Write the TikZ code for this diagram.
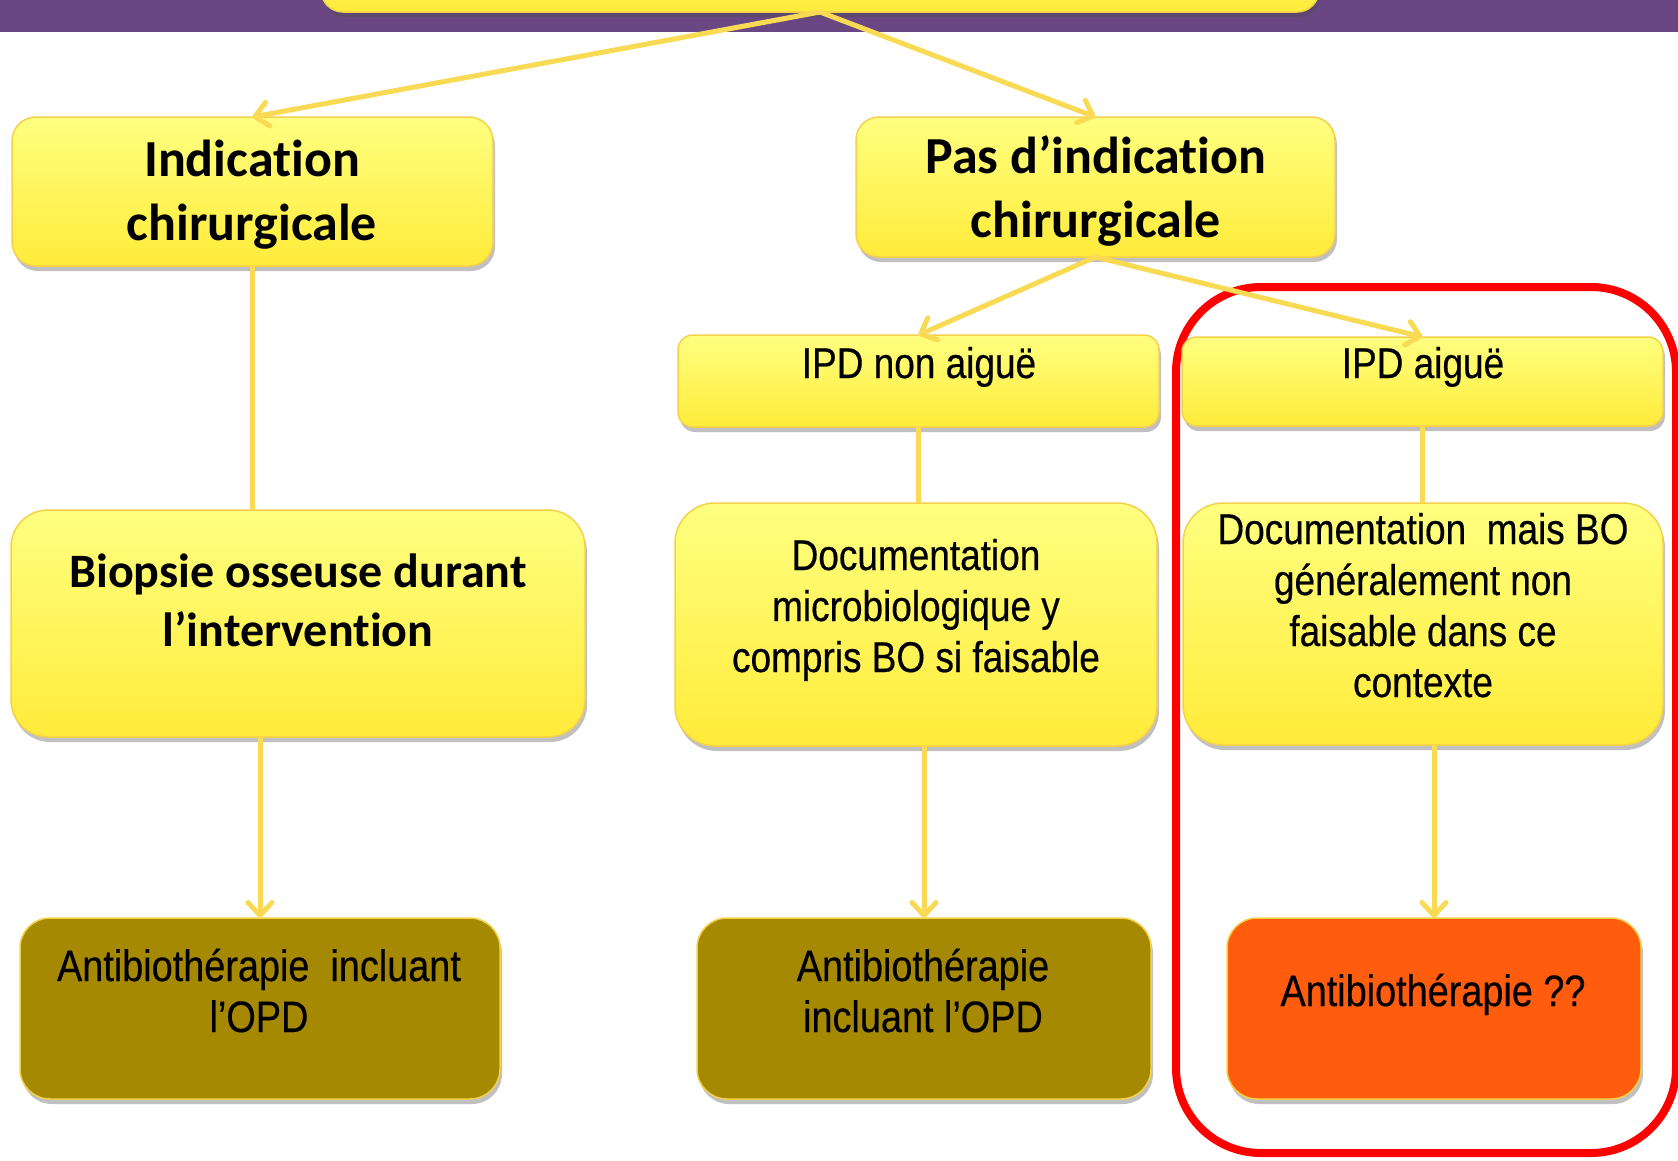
\documentclass[tikz,border=0pt]{standalone}
\usepackage{fontspec}
\setmainfont{Carlito}[Ligatures=NoCommon]
\newfontfamily\narrowf[FakeStretch=0.86, FakeBold=0.4]{Liberation Sans}
\usetikzlibrary{shadows,arrows.meta}
\definecolor{purpleband}{HTML}{6A4783}
\definecolor{ylight}{HTML}{FFFF80}
\definecolor{ydark}{HTML}{FFEB3A}
\definecolor{yborder}{HTML}{F5D04A}
\definecolor{oliveb}{HTML}{A68902}
\definecolor{orangeb}{HTML}{FF5C0D}
\definecolor{connc}{HTML}{F9DA55}
\tikzset{
  boxbase/.style={draw=yborder, line width=1.5pt, inner sep=0pt, outer sep=0pt,
    drop shadow={shadow xshift=2pt, shadow yshift=-5pt, opacity=0.35, fill=black!70}},
  ybox/.style={boxbase, top color=ylight, bottom color=ydark},
  obox/.style={boxbase, fill=oliveb},
  rbox/.style={boxbase, fill=orangeb},
  boldtxt/.style={align=center, inner sep=0pt, font=\bfseries\fontsize{52}{64}\selectfont},
  biotxt/.style={align=center, inner sep=0pt, font=\bfseries\fontsize{48}{59}\selectfont},
  narrowtxt/.style={align=center, inner sep=0pt, font=\narrowf\fontsize{43}{51}\selectfont},
  antitxt/.style={align=center, inner sep=0pt, font=\narrowf\fontsize{44}{51}\selectfont},
  conn/.style={draw=connc, line width=5pt},
  connarrow/.style={conn, -{Straight Barb[length=13pt, width=24pt, line width=5pt, round]}}
}
\begin{document}
\begin{tikzpicture}[x=1pt, y=-1pt]
\useasboundingbox (0,0) rectangle (1678,1160);
\clip (0,0) rectangle (1678,1160);
\fill[white] (0,0) rectangle (1678,1160);
\fill[purpleband] (0,0) rectangle (1678,32);

% focus frame
\node[draw=red, line width=8pt, rounded corners=85pt, minimum width=500pt, minimum height=866pt, inner sep=0pt] (focus) at (1426,720) {};

% boxes
\node[ybox, rounded corners=22pt, minimum width=998pt, minimum height=90pt] (topb) at (820,-33) {};
\node[ybox, rounded corners=24pt, minimum width=481pt, minimum height=149pt] (ind) at (252.5,191.5) {};
\node[ybox, rounded corners=23pt, minimum width=479pt, minimum height=140pt] (pas) at (1095.5,187) {};
\node[ybox, rounded corners=15pt, minimum width=481pt, minimum height=92pt] (ipdn) at (918.5,381) {};
\node[ybox, rounded corners=15pt, minimum width=481pt, minimum height=89pt] (ipda) at (1422.5,381.5) {};
\node[ybox, rounded corners=37pt, minimum width=574pt, minimum height=227pt] (bio) at (298,623.5) {};
\node[ybox, rounded corners=40pt, minimum width=482pt, minimum height=243pt] (docm) at (916,624.5) {};
\node[ybox, rounded corners=40pt, minimum width=480pt, minimum height=242pt] (docb) at (1423,624) {};
\node[obox, rounded corners=30pt, minimum width=480pt, minimum height=181pt] (a1) at (260,1008.5) {};
\node[obox, rounded corners=30pt, minimum width=454pt, minimum height=181pt] (a2) at (924,1008.5) {};
\node[rbox, rounded corners=30pt, minimum width=414pt, minimum height=181pt] (a3) at (1434,1008.5) {};

% connectors
\draw[connarrow] (topb.south) -- (ind.north);
\draw[connarrow] (topb.south) -- (pas.north);
\draw[conn] (ind.south) -- (ind.south |- bio.north);
\draw[connarrow] (bio.south -| a1.north) -- (a1.north);
\draw[connarrow] (pas.south) -- (ipdn.north);
\draw[connarrow] (pas.south) -- (ipda.north);
\draw[conn] (ipdn.south) -- (ipdn.south |- docm.north);
\draw[connarrow] (docm.south -| a2.north) -- (a2.north);
\draw[conn] (ipda.south) -- (ipda.south |- docb.north);
\draw[connarrow] (docb.south -| a3.north) -- (a3.north);

% texts (anchor=base is the last line's baseline)
\node[boldtxt, anchor=base] (tind) at (252,240) {Indication\\chirurgicale};
\node[boldtxt, anchor=base] (tpas) at (1096,237) {Pas d’indication\\chirurgicale};
\node[narrowtxt, anchor=base] (tipdn) at (919,378) {IPD non aiguë};
\node[narrowtxt, anchor=base] (tipda) at (1423,378) {IPD aiguë};
\node[biotxt, anchor=base] (tbio) at (298,646) {Biopsie osseuse durant\\l’intervention};
\node[narrowtxt, anchor=base] (tdocm) at (916,672) {Documentation\\microbiologique y\\compris BO si faisable};
\node[narrowtxt, anchor=base] (tdocb) at (1423,697) {Documentation\ \ mais BO\\généralement non\\faisable dans ce\\contexte};
\node[antitxt, anchor=base] (ta1) at (259,1032) {Antibiothérapie\ \ incluant\\l’OPD};
\node[antitxt, anchor=base] (ta2) at (923,1032) {Antibiothérapie\\incluant l’OPD};
\node[antitxt, anchor=base] (ta3) at (1433,1006) {Antibiothérapie ??};
\end{tikzpicture}
\end{document}
